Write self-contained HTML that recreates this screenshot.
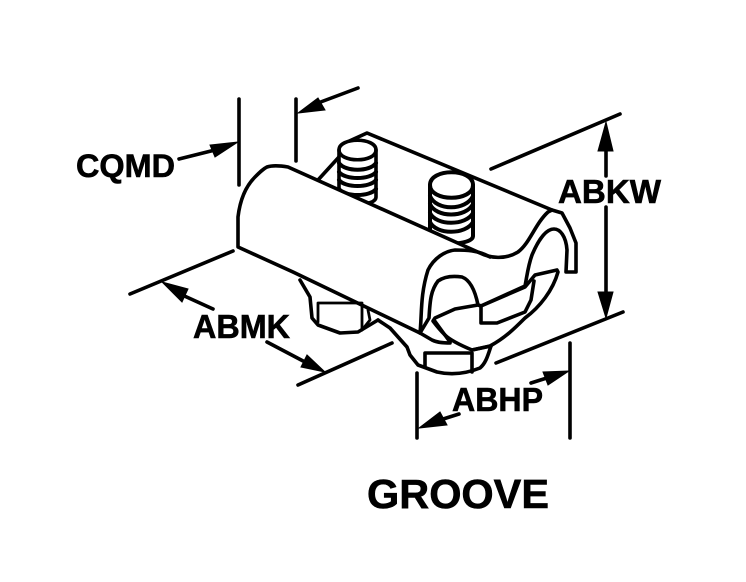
<!DOCTYPE html>
<html>
<head>
<meta charset="utf-8">
<style>
html,body{margin:0;padding:0;background:#fff;}
svg{display:block;}
text{font-family:"Liberation Sans",sans-serif;font-weight:bold;fill:#000;stroke:#000;stroke-width:.6px;}
</style>
</head>
<body>
<svg width="746" height="582" viewBox="0 0 746 582" xmlns="http://www.w3.org/2000/svg">
<rect width="746" height="582" fill="#fff"/>
<g fill="none" stroke="#000" stroke-width="3.6" stroke-linejoin="round" stroke-linecap="round">
  <!-- back edge -->
  <path d="M345 143 L367 133 L552 210"/>
  <path d="M318 180 L339 157"/>
  <!-- stud 1 -->
  <path d="M339 197 V150 C339 137 376 137 376 150 V197 C376 207 339 207 339 197Z" fill="#fff"/>
  <path d="M339 150 C339 163 376 163 376 150"/>
  <path d="M339 163 C345 172 370 172 376 163" stroke-width="4"/>
  <path d="M339 172 C345 180 370 180 376 172" stroke-width="4"/>
  <path d="M339 180 C345 188 370 188 376 180" stroke-width="4"/>
  <path d="M339 189 C345 197 370 197 376 189" stroke-width="4"/>
  <!-- stud 2 -->
  <path d="M430 236 V185 C430 168 473 168 473 185 V236 C473 246 430 246 430 236Z" fill="#fff" stroke-width="4"/>
  <path d="M430 185 C430 202 473 202 473 185" stroke-width="4"/>
  <path d="M430 196 C436 211 466 211 473 196" stroke-width="4"/>
  <path d="M430 204 C436 218 466 218 473 204" stroke-width="4"/>
  <path d="M430 213 C436 226 466 226 473 213" stroke-width="4"/>
  <path d="M430 222 C436 235 466 235 473 222" stroke-width="4"/>
  <!-- body -->
  <path d="M238 247 V217 C240 200 246 186 255 177 C260 172 263 169 267 167 C273 165 282 166 288 167 L480 253 C490 258 505 260 518 252 C530 243 535 224 548 212 L552 210 L562 213 L570 228 L576 243 V272 H566 L567 250 C566 236 560 229 554 229 C545 229 537 243 532 255 C528 266 527 276 525 286 L481 306 L478 305 C475 290 470 280 462 277 C455 276 445 276 438 281 C431 290 430 300 429 318 L420 333 L293 272 Z" fill="#fff"/>
  <path d="M420 333 C422 315 420 295 428 270 C434 258 445 251 455 250 C465 250 478 250 490 257"/>
  <!-- jaw -->
  <path d="M435 318 L455 309 L478 305 L481 306 L525 287 L535 275 L557 270 L558 272 C553 290 540 307 525 318 C515 328 505 338 490 346 L472 350 C460 345 450 340 445 335 C440 330 436 325 433 321 Z" fill="#fff"/>
  <path d="M481 306 V323 H497 L525 312 L531 300 L534 281"/>
  <path d="M420 333 L432 340 C438 343 445 343 450 343"/>
  <path d="M434 320 L450 342"/>
  <!-- lower nut -->
  <path d="M378 320 L390 328 L407 347 L410 355 L418 365 L437 372 C450 375 465 374 480 368 C486 363 488 355 491 346"/>
  <path d="M425 366 V353 H472 V372"/>
  <path d="M472 350 L491 346"/>
  <!-- left nut -->
  <path d="M300 280 L310 297 L312 318 L318 325 L340 333 L358 332 L378 320"/>
  <path d="M318 322 V303 H362 V330" stroke-width="2.8"/>
  <path d="M368 310 L370 320 L362 330" stroke-width="2.8"/>
  <!-- dimension lines -->
  <path d="M239 99 V185"/>
  <path d="M296 99 V161"/>
  <path d="M318 103 L358 88"/>
  <path d="M179 159 L215 150"/>
  <path d="M130 294 L233 251"/>
  <path d="M298 385 L392 343"/>
  <path d="M180 294 L213 309"/>
  <path d="M267 342 L305 362"/>
  <path d="M491 169 L620 114"/>
  <path d="M496 363 L623 312"/>
  <path d="M606 150 V176"/>
  <path d="M606 207 V292"/>
  <path d="M417 373 V438"/>
  <path d="M570 343 V438"/>
  <path d="M440 420 L459 414"/>
  <path d="M531 383 L550 377"/>
</g>
<g fill="#000" stroke="#000" stroke-width="1">
  <polygon points="298,113 318,98 325,110"/>
  <polygon points="238,142 210,145 215,157"/>
  <polygon points="162,282 188,289 182,302"/>
  <polygon points="325,372 307,355 301,367"/>
  <polygon points="606,122 598,151 613,151"/>
  <polygon points="606,318 598,292 613,292"/>
  <polygon points="419,428 440,412 447,425"/>
  <polygon points="569,371 543,372 548,385"/>
</g>
<text x="76" y="177" font-size="32" textLength="99" lengthAdjust="spacingAndGlyphs">CQMD</text>
<text x="558" y="203" font-size="33" textLength="103" lengthAdjust="spacingAndGlyphs">ABKW</text>
<text x="193" y="338" font-size="33" textLength="97" lengthAdjust="spacingAndGlyphs">ABMK</text>
<text x="452" y="411" font-size="33" textLength="91" lengthAdjust="spacingAndGlyphs">ABHP</text>
<text x="367" y="508" font-size="41" textLength="182" lengthAdjust="spacingAndGlyphs">GROOVE</text>
</svg>
</body>
</html>
